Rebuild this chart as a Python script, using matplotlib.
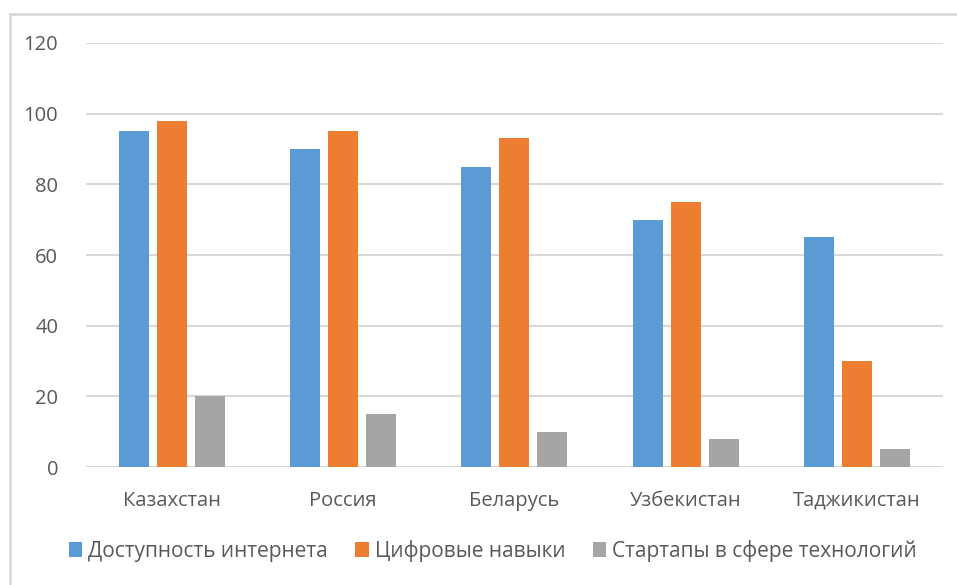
import matplotlib.pyplot as plt
from matplotlib.patches import Rectangle
import numpy as np

# Data
countries = ["Казахстан", "Россия", "Беларусь", "Узбекистан", "Таджикистан"]
internet = [95, 90, 85, 70, 65]
digital = [98, 95, 93, 75, 30]
startups = [20, 15, 10, 8, 5]
series_names = ["Доступность интернета", "Цифровые навыки", "Стартапы в сфере технологий"]
yticks = [0, 20, 40, 60, 80, 100, 120]

colors = ["#5b9bd5", "#ed7d31", "#a5a5a5"]
text_color = "#595959"
grid_color = "#d9d9d9"

plt.rcParams['font.family'] = ['Open Sans', 'DejaVu Sans']

fig = plt.figure(figsize=(9.57, 5.85), dpi=100)
ax = fig.add_axes([0.0899, 0.2017, 0.8951, 0.7248])

# chart border like an Excel chart area
fig.patches.append(Rectangle((10 / 957, -0.01), 1.0, 1 - 14 / 585 + 0.01,
                             transform=fig.transFigure, fill=False,
                             edgecolor=grid_color, linewidth=2))

x = np.arange(len(countries))
width = 0.175
offset = 0.222
for i, vals in enumerate([internet, digital, startups]):
    ax.bar(x + (i - 1) * offset, vals, width, color=colors[i],
           label=series_names[i], zorder=3)

ax.set_xlim(-0.5, len(countries) - 0.5)
ax.set_ylim(0, 120)
ax.set_yticks(yticks)
ax.yaxis.grid(True, color=grid_color, linewidth=1.5, zorder=0)
for s in ax.spines.values():
    s.set_visible(False)
ax.tick_params(axis='both', length=0, labelsize=14.5, colors=text_color)
ax.tick_params(axis='y', pad=20)
ax.tick_params(axis='x', pad=17)
ax.set_xticks(x)
ax.set_xticklabels(countries)

leg = fig.legend(loc='center', bbox_to_anchor=(0.515, 0.058), ncol=3,
                 frameon=False, fontsize=15, handlelength=0.65, handleheight=0.7,
                 handletextpad=0.3, columnspacing=1.3)
for t in leg.get_texts():
    t.set_color(text_color)

plt.savefig("out.png", dpi=100)
